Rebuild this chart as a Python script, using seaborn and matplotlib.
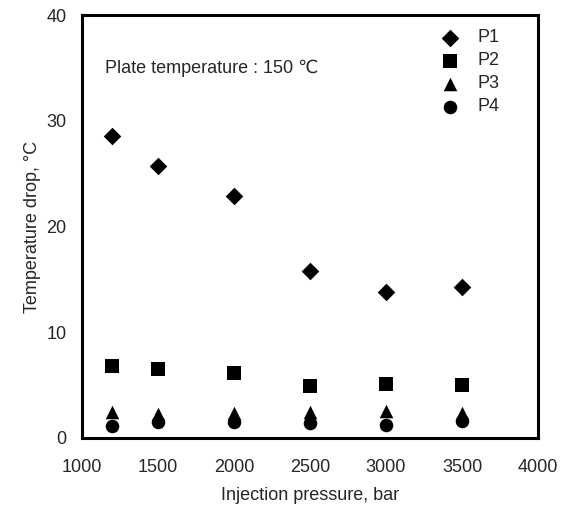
import pandas as pd
import seaborn as sns
import matplotlib.pyplot as plt

# Injection pressure (bar) and temperature drop (C) for each position
pressure = [1200, 1500, 2000, 2500, 3000, 3500]
p1 = [28.6, 25.7, 22.9, 15.8, 13.8, 14.3]
p2 = [6.8, 6.5, 6.1, 4.9, 5.1, 5.0]
p3 = [2.5, 2.3, 2.4, 2.5, 2.6, 2.4]
p4 = [1.1, 1.5, 1.5, 1.4, 1.2, 1.6]
series = ['P1', 'P2', 'P3', 'P4']

df = pd.DataFrame({
    'pressure': pressure * 4,
    'drop': p1 + p2 + p3 + p4,
    'series': [s for s in series for _ in pressure],
})

sns.set_style('white')
plt.rcParams['font.family'] = ['Liberation Sans', 'DejaVu Sans']

fig = plt.figure(figsize=(5.69, 5.09), dpi=100)
ax = fig.add_axes([0.1441, 0.1395, 0.8014, 0.8310])

markers = {'P1': 'D', 'P2': 's', 'P3': '^', 'P4': 'o'}
sizes = {'P1': 80, 'P2': 90, 'P3': 95, 'P4': 95}
for s in series:
    sub = df[df['series'] == s]
    sns.scatterplot(data=sub, x='pressure', y='drop', marker=markers[s], s=sizes[s],
                    color='black', edgecolor='black', linewidth=0, label=s, ax=ax)

ax.set_xlim(1000, 4000)
ax.set_ylim(0, 40)
ax.set_xticks([1000, 1500, 2000, 2500, 3000, 3500, 4000])
ax.set_yticks([0, 10, 20, 30, 40])
ax.tick_params(direction='in', length=4, width=1, labelsize=13)
ax.tick_params(axis='x', pad=15)
ax.tick_params(axis='y', pad=11)
for sp in ax.spines.values():
    sp.set_linewidth(2.2)
    sp.set_color('black')

ax.set_xlabel('Injection pressure, bar', fontsize=13, labelpad=8)
ax.set_ylabel('Temperature drop, \u00b0C', fontsize=13, labelpad=4)
ax.text(1151, 35.0, 'Plate temperature : 150 \u2103', fontsize=13, va='center', ha='left',
        family=['Liberation Sans', 'DejaVu Sans'])

leg = ax.legend(loc='upper left', bbox_to_anchor=(0.787, 0.966), frameon=False, fontsize=13,
                handlelength=1.0, handletextpad=1.05, labelspacing=0.33,
                borderpad=0, borderaxespad=0)

fig.savefig('out.png', dpi=100)
